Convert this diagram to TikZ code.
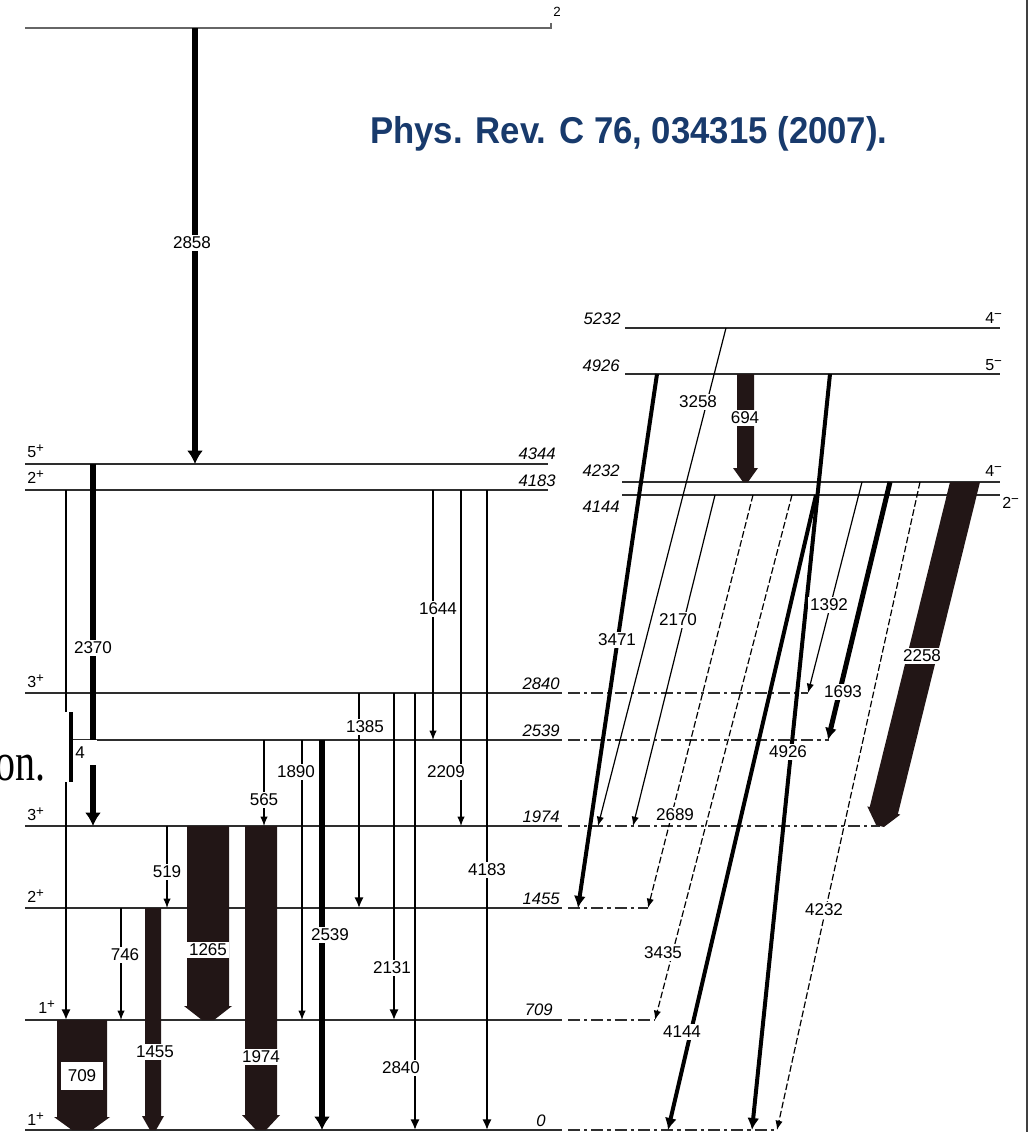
\documentclass[tikz,border=0pt]{standalone}
\usepackage{fontspec}
\setmainfont{Liberation Sans}
\newfontfamily\serifont{Liberation Serif}
\usetikzlibrary{arrows.meta}
\definecolor{prcblue}{RGB}{24,58,108}
\definecolor{barcol}{RGB}{34,22,22}
\newcommand\spinsup[1]{\raisebox{0.55ex}{\fontsize{10}{10}\selectfont #1}}
\begin{document}
\begin{tikzpicture}[x=0.75pt,y=-0.75pt,
  lvl/.style={line width=1.3pt,draw=black!82},
  ext/.style={line width=1.3pt,draw=black!82,dash pattern=on 9pt off 3pt on 2.5pt off 3pt},
  tlab/.style={font=\fontsize{12.8}{13}\selectfont,fill=white,inner xsep=1.2pt,inner ysep=1.5pt},
  elab/.style={font=\fontsize{12.5}{13}\selectfont\itshape,inner sep=0pt,anchor=base east},
  slab/.style={font=\fontsize{12}{13}\selectfont,inner sep=0pt,anchor=base west},
  tw/.style={line width=0.9pt,-{Latex[length=7pt,width=5.5pt]}},
  tm/.style={line width=1.5pt,-{Latex[length=8pt,width=7pt]}},
  tk/.style={line width=3pt,-{Latex[length=9pt,width=9pt]}},
  tx/.style={line width=4.5pt,-{Latex[length=10pt,width=12pt]}},
  dsh/.style={dash pattern=on 5pt off 2pt},
  fat/.style={fill=barcol}]
\useasboundingbox (0,0) rectangle (1030,1132);

% right border
\draw[line width=0.8pt,black!75] (1027,0) -- (1027,1132);

% top level
\draw[line width=0.8pt,black!60] (25,28) -- (551,28) -- (551,23);
\node[font=\fontsize{10}{10}\selectfont,inner sep=0pt] (topspin) at (557,12) {2};

% reference
\node[anchor=base west,inner sep=0pt,text=prcblue,font=\fontsize{28}{28}\selectfont\bfseries,xscale=0.93] (ref) at (370,143) {Phys. Rev. C 76, 034315 (2007).};

% left levels
\draw[lvl] (25,464) -- (548,464);
\draw[lvl] (25,490) -- (548,490);
\foreach \yy/\ee in {693/808,740/829,826/880,908/648,1020/655,1130/777}{
  \draw[lvl] (25,\yy) -- (562,\yy);
  \draw[ext] (568,\yy) -- (\ee,\yy);}

% right levels
\draw[lvl] (625,328) -- (1000,328);
\draw[lvl] (625,374) -- (1000,374);
\draw[lvl] (622,482) -- (1000,482);
\draw[lvl] (622,495) -- (1000,495);

% energy labels
\node[elab] (e4344) at (556,459) {4344};
\node[elab] (e4183) at (556,486) {4183};
\node[elab] (e2840) at (560,689) {2840};
\node[elab] (e2539) at (560,736) {2539};
\node[elab] (e1974) at (560,822) {1974};
\node[elab] (e1455) at (560,904) {1455};
\node[elab] (e709) at (553,1015) {709};
\node[elab] (e0) at (546,1126) {0};
\node[elab] (e5232) at (621,324) {5232};
\node[elab] (e4926) at (620,371) {4926};
\node[elab] (e4232) at (620,476) {4232};
\node[elab] (e4144) at (620,512) {4144};

% spin labels
\node[slab] (s4344) at (27,457) {5\spinsup{+}};
\node[slab] (s4183) at (27,483) {2\spinsup{+}};
\node[slab] (s2840) at (27,687) {3\spinsup{+}};
\node[slab] (s1974) at (27,820) {3\spinsup{+}};
\node[slab] (s1455) at (27,902) {2\spinsup{+}};
\node[slab] (s709) at (38,1013) {1\spinsup{+}};
\node[slab] (s0) at (27,1125) {1\spinsup{+}};
\node[slab] (s5232) at (985,323) {4\spinsup{−}};
\node[slab] (s4926) at (985,370) {5\spinsup{−}};
\node[slab] (s4232) at (985,476) {4\spinsup{−}};
\node[slab] (s4144) at (1002,508) {2\spinsup{−}};

% ---- left transitions
\draw[tx] (195,28) -- (195,464);
\draw[tx] (93,464) -- (93,826);
\draw[tm,line width=2.2pt] (66,490) -- (66,1020);
\draw[tw] (433,490) -- (433,740);
\draw[tw] (461,490) -- (461,826);
\draw[tm] (487,490) -- (487,1130);
\draw[tm] (359,693) -- (359,908);
\draw[tm] (394,693) -- (394,1020);
\draw[tm] (415,693) -- (415,1130);
\draw[tw] (264,740) -- (264,826);
\draw[tw] (302,740) -- (302,1020);
\draw[tx] (322,740) -- (322,1130);
\draw[tw] (167,826) -- (167,908);
\draw[tw] (121,908) -- (121,1020);

% fat vertical bars
\fill[fat] (57,1020) -- (107,1020) -- (107,1117) -- (110,1117) -- (92,1130) -- (72,1130) -- (54,1117) -- (57,1117) -- cycle;
\fill[fat] (187,826) -- (229,826) -- (229,1006) -- (232,1006) -- (214,1020) -- (202,1020) -- (184,1006) -- (187,1006) -- cycle;
\fill[fat] (245,826) -- (277,826) -- (277,1115) -- (280,1115) -- (266,1130) -- (256,1130) -- (242,1115) -- (245,1115) -- cycle;
\fill[fat] (145,908) -- (161,908) -- (161,1116) -- (164,1116) -- (156,1130) -- (150,1130) -- (142,1116) -- (145,1116) -- cycle;
\fill[fat] (737,374) -- (754,374) -- (754,468) -- (758,468) -- (748,482) -- (743,482) -- (733,468) -- (737,468) -- cycle;
% slanted fat bar 2258
\fill[fat] (950,482) -- (980,482) -- (897.9,814.0) -- (900.3,814.6) -- (883.9,827) -- (876.1,825) -- (867.3,806.4) -- (869.7,807.0) -- cycle;

% ---- right transitions
\draw[tw] (726,328) -- (598,826);
\draw[tk] (657,374) -- (578,908);
\draw[tk] (830,374) -- (752,1130);
\draw[tw] (862,482) -- (808,693);
\draw[tk,line width=3.75pt] (890,482) -- (828,740);
\draw[tw,dsh] (920,482) -- (777,1130);
\draw[tw] (715,495) -- (633,826);
\draw[tw,dsh] (753,495) -- (648,908);
\draw[tw,dsh] (792,495) -- (655,1020);
\draw[tk] (816,495) -- (668,1130);

% ---- transition labels
\node[tlab] (l2858) at (192,243) {2858};
\node[tlab] (l2370) at (93,648) {2370};
\node[tlab] (l1644) at (438,609) {1644};
\node[tlab] (l2209) at (446,772) {2209};
\node[tlab] (l4183) at (487,870) {4183};
\node[tlab] (l1385) at (365,727) {1385};
\node[tlab] (l2131) at (392,968) {2131};
\node[tlab] (l2840) at (401,1068) {2840};
\node[tlab] (l565) at (264,800) {565};
\node[tlab] (l1890) at (296,772) {1890};
\node[tlab] (l2539) at (330,935) {2539};
\node[tlab] (l519) at (167,872) {519};
\node[tlab] (l746) at (125,955) {746};
\node[tlab] (l1265) at (208,950) {1265};
\node[tlab] (l1974) at (261,1057) {1974};
\node[tlab] (l1455) at (155,1052) {1455};
\node[tlab,inner xsep=5pt,inner ysep=6pt] (l709) at (82,1076) {709};
\node[tlab] (l694) at (745,418) {694};
\node[tlab] (l3258) at (698,402) {3258};
\node[tlab] (l3471) at (617,640) {3471};
\node[tlab] (l4926) at (788,752) {4926};
\node[tlab] (l1392) at (829,605) {1392};
\node[tlab] (l1693) at (843,692) {1693};
\node[tlab] (l4232) at (824,910) {4232};
\node[tlab] (l2258) at (922,656) {2258};
\node[tlab] (l2170) at (678,620) {2170};
\node[tlab] (l2689) at (675,815) {2689};
\node[tlab] (l3435) at (663,953) {3435};
\node[tlab] (l4144) at (682,1032) {4144};

% ---- overlay from the slide
\fill[white] (-5,712) rectangle (69.5,782);
\draw[line width=2.4pt] (71,712) -- (71,782);
\node[anchor=base east,inner sep=0pt,font=\serifont\fontsize{30}{30}\selectfont,yscale=1.35] (ovl) at (46,780) {on.};
\fill[white] (72.5,740) rectangle (97,765);
\node[font=\fontsize{12.8}{13}\selectfont,inner sep=0pt] (l3474) at (80,752.5) {4};
\end{tikzpicture}
\end{document}
